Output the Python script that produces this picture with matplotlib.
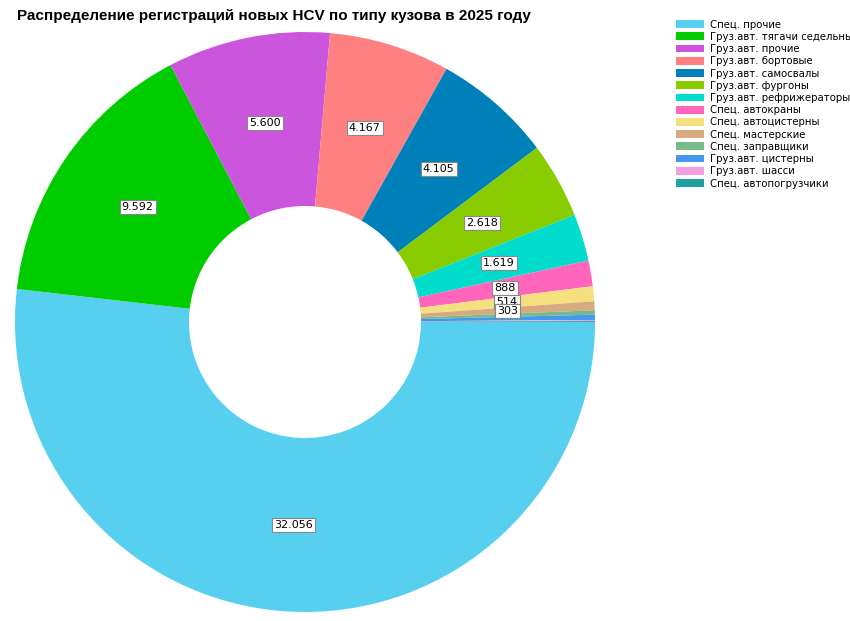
import numpy as np
import matplotlib.pyplot as plt

labels = ['Спец. прочие', 'Груз.авт. тягачи седельные', 'Груз.авт. прочие',
          'Груз.авт. бортовые', 'Груз.авт. самосвалы', 'Груз.авт. фургоны',
          'Груз.авт. рефрижераторы', 'Спец. автокраны', 'Спец. автоцистерны',
          'Спец. мастерские', 'Спец. заправщики', 'Груз.авт. цистерны',
          'Груз.авт. шасси', 'Спец. автопогрузчики']
values = [32056, 9592, 5600, 4167, 4105, 2618, 1619, 888, 514, 303, 150, 180, 40, 30]
shown = ['32.056', '9.592', '5.600', '4.167', '4.105', '2.618', '1.619', '888', '514',
         '303', '', '', '', '']
colors = ['#57cfee', '#00cc00', '#cc55dd', '#ff8080', '#0080b8', '#88cc00',
          '#00ddcc', '#ff66bb', '#f5e080', '#d8aa80', '#77bb88', '#4499ee',
          '#f0a0e0', '#20a0a0']

fig = plt.figure(figsize=(8.5, 6.21), dpi=100)
ax = fig.add_axes([15 / 850, 9 / 621, 580 / 850, 580 / 621])
wedges, _ = ax.pie(values, colors=colors, startangle=0, counterclock=False,
                   wedgeprops=dict(width=0.6, edgecolor='none'), radius=1)
for w, s in zip(wedges, shown):
    if not s:
        continue
    ang = np.deg2rad((w.theta1 + w.theta2) / 2)
    ax.text(0.7 * np.cos(ang), 0.7 * np.sin(ang), s, ha='center', va='center',
            fontsize=8, bbox=dict(facecolor='white', edgecolor='#888888', pad=1.5, lw=0.8))
ax.set_xlim(-1, 1)
ax.set_ylim(-1, 1)
ax.set_aspect('equal')

fig.text(0.02, 0.985, 'Распределение регистраций новых HCV по типу кузова в 2025 году',
         fontsize=11, fontweight='bold', va='top', family='Liberation Sans')
fig.legend(wedges, labels, loc='upper left', bbox_to_anchor=(672 / 850, 0.975),
           frameon=False, fontsize=7.3, handlelength=2.8, handleheight=0.8,
           handletextpad=0.5, labelspacing=0.22, borderaxespad=0)
fig.savefig('out.png', dpi=100)
